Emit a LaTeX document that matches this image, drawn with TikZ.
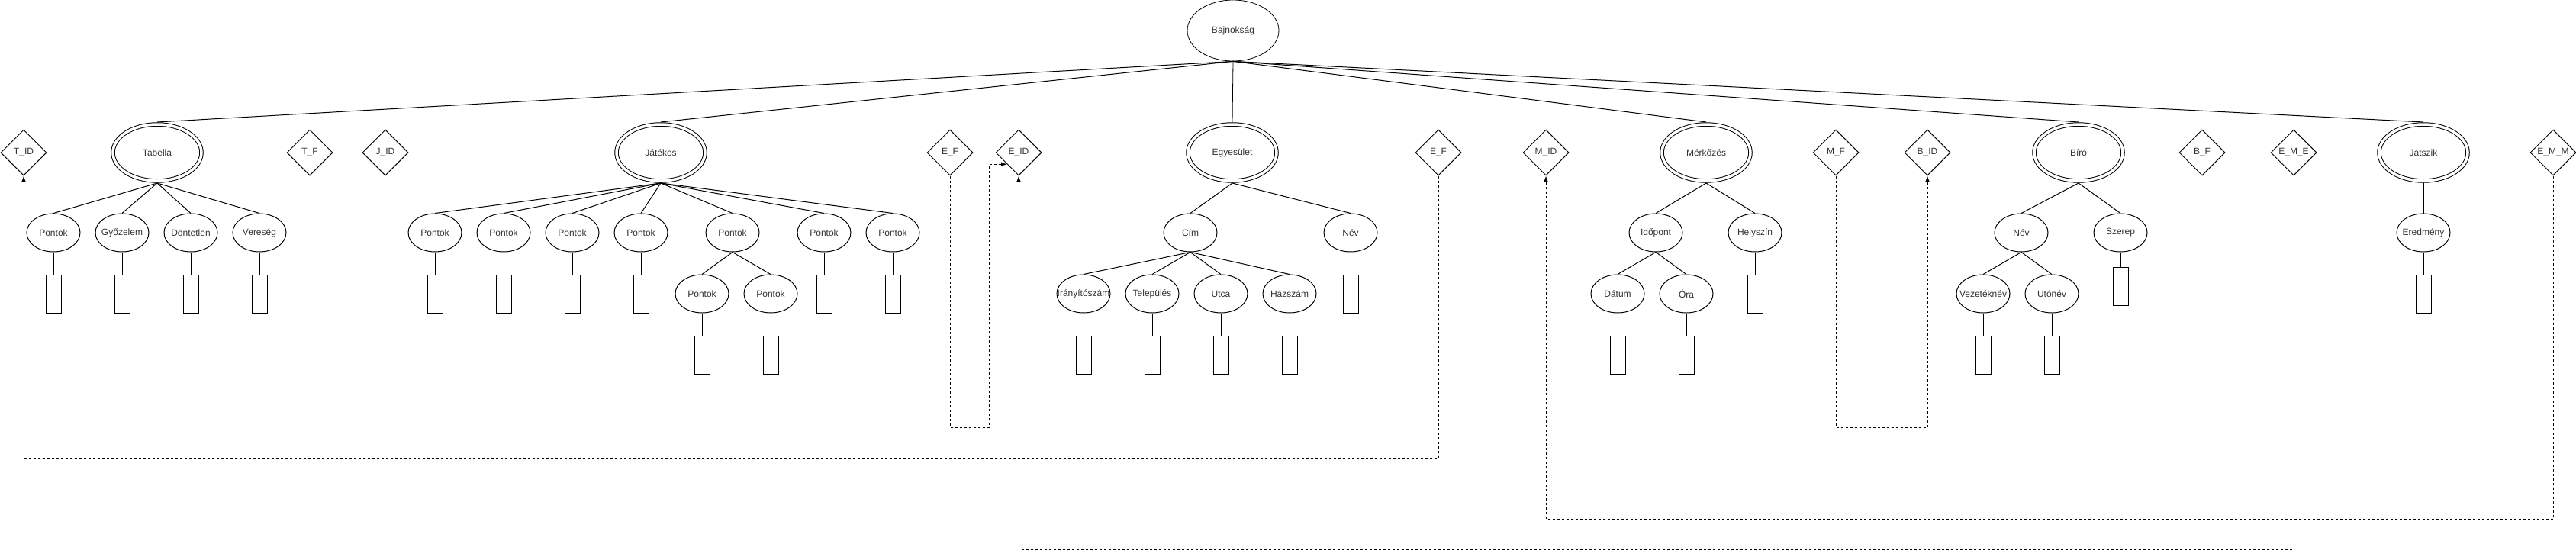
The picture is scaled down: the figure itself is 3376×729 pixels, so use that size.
\documentclass[tikz,border=0pt]{standalone}
\usepackage{fontspec}
\setmainfont{Liberation Sans}
\usetikzlibrary{shapes.geometric,arrows.meta}
\newcommand\A[1]{\makebox[0pt]{#1}}
\newcommand\U[1]{\setbox0\hbox{#1}\rlap{\rule[-2.2pt]{\wd0}{0.8pt}}\box0}
\begin{document}
\begin{tikzpicture}[x=1pt,y=-1pt,
  every node/.style={font=\fontsize{12}{14}\selectfont, text=black!80},
  topent/.style={draw, ellipse, line width=0.8pt, minimum width=120pt, minimum height=80pt, inner sep=0pt},
  ent/.style={draw, ellipse, line width=1pt, double, double distance=3.5pt, minimum width=116pt, minimum height=74pt, inner sep=0pt, outer sep=3pt},
  attr/.style={draw, ellipse, line width=1pt, minimum width=70pt, minimum height=50pt, inner sep=0pt},
  rel/.style={draw, diamond, line width=1pt, shape aspect=1, minimum width=60pt, minimum height=60pt, inner sep=0pt},
  valbox/.style={draw, rectangle, line width=1pt, minimum width=20pt, minimum height=50pt, inner sep=0pt},
  conn/.style={line width=1pt},
  fk/.style={line width=1pt, dash pattern=on 3pt off 3pt, -{Latex[length=8pt,width=6pt]}}
]
\useasboundingbox (0,0) rectangle (3376,729);

% top
\node[topent] (baj) at (1616,40) {Bajnokság};

% entities
\node[ent] (tab) at (206,200) {Tabella};
\node[ent] (jat) at (866,200) {Játékos};
\node[ent] (egy) at (1615,200) {Egyesület};
\node[ent] (mer) at (2236,200) {Mérkőzés};
\node[ent] (bir) at (2724,200) {Bíró};
\node[ent] (jsz) at (3176,200) {Játszik};

% diamonds
\node[rel] (tid) at (31,200) {\U{T\_ID}};
\node[rel] (tf) at (406,200) {T\_F};
\node[rel] (jid) at (505,200) {\U{J\_ID}};
\node[rel] (ef1) at (1245,200) {E\_F};
\node[rel] (eid) at (1335,200) {\U{E\_ID}};
\node[rel] (ef2) at (1885,200) {E\_F};
\node[rel] (mid) at (2026,200) {\U{M\_ID}};
\node[rel] (mf) at (2406,200) {M\_F};
\node[rel] (bid) at (2526,200) {\U{B\_ID}};
\node[rel] (bf) at (2886,200) {B\_F};
\node[rel] (eme) at (3006,200) {E\_M\_E};
\node[rel] (emm) at (3346,200) {E\_M\_M};

% Tabella attributes
\node[attr] (t1) at (70,305) {\A{Pontok}};
\node[attr] (t2) at (160,305) {\A{Győzelem}};
\node[attr] (t3) at (250,305) {\A{Döntetlen}};
\node[attr] (t4) at (340,305) {\A{Vereség}};
\foreach \n/\x in {t1/70,t2/160,t3/250,t4/340}{
  \node[valbox] (\n b) at (\x,385) {};
}

% Játékos attributes
\foreach \n/\x in {j1/570,j2/660,j3/750,j4/840,j5/960,j6/1080,j7/1170}{
  \node[attr] (\n) at (\x,305) {\A{Pontok}};
}
\foreach \n/\x in {j1/570,j2/660,j3/750,j4/840,j6/1080,j7/1170}{
  \node[valbox] (\n b) at (\x,385) {};
}
\node[attr] (j5a) at (920,385) {\A{Pontok}};
\node[attr] (j5c) at (1010,385) {\A{Pontok}};
\node[valbox] (j5ab) at (920,465) {};
\node[valbox] (j5cb) at (1010,465) {};

% Egyesület attributes
\node[attr] (cim) at (1560,305) {\A{Cím}};
\node[attr] (nev) at (1770,305) {\A{Név}};
\node[valbox] (nevb) at (1770,385) {};
\node[attr] (e1) at (1420,385) {\A{Irányítószám}};
\node[attr] (e2) at (1510,385) {\A{Település}};
\node[attr] (e3) at (1600,385) {\A{Utca}};
\node[attr] (e4) at (1690,385) {\A{Házszám}};
\foreach \n/\x in {e1/1420,e2/1510,e3/1600,e4/1690}{
  \node[valbox] (\n b) at (\x,465) {};
}

% Mérkőzés attributes
\node[attr] (ido) at (2170,305) {\A{Időpont}};
\node[attr] (hely) at (2300,305) {\A{Helyszín}};
\node[valbox] (helyb) at (2300,385) {};
\node[attr] (dat) at (2120,385) {\A{Dátum}};
\node[attr] (ora) at (2210,385) {\A{Óra}};
\node[valbox] (datb) at (2120,465) {};
\node[valbox] (orab) at (2210,465) {};

% Bíró attributes
\node[attr] (bnev) at (2649,305) {\A{Név}};
\node[attr] (sz) at (2779,305) {\A{Szerep}};
\node[valbox] (szb) at (2779,375) {};
\node[attr] (vez) at (2599,385) {\A{Vezetéknév}};
\node[attr] (uto) at (2689,385) {\A{Utónév}};
\node[valbox] (vezb) at (2599,465) {};
\node[valbox] (utob) at (2689,465) {};

% Játszik attribute
\node[attr] (ered) at (3176,305) {\A{Eredmény}};
\node[valbox] (eredb) at (3176,385) {};

% connectors from Bajnokság
\foreach \e in {tab,jat,mer,bir,jsz}{
  \draw[conn] (baj.south) -- (\e.north);
}
\draw[line width=0.8pt] (baj.south) -- (egy.north);

% horizontal connectors
\foreach \a/\b in {tid/tab,tab/tf,jid/jat,jat/ef1,eid/egy,egy/ef2,mid/mer,mer/mf,bid/bir,bir/bf,eme/jsz,jsz/emm}{
  \draw[conn] (\a.east) -- (\b.west);
}

% parent-child connectors
\foreach \p/\c in {tab/t1,tab/t2,tab/t3,tab/t4,
  jat/j1,jat/j2,jat/j3,jat/j4,jat/j5,jat/j6,jat/j7,j5/j5a,j5/j5c,
  egy/cim,egy/nev,cim/e1,cim/e2,cim/e3,cim/e4,
  mer/ido,mer/hely,ido/dat,ido/ora,
  bir/bnev,bir/sz,bnev/vez,bnev/uto,
  jsz/ered}{
  \draw[conn] (\p.south) -- (\c.north);
}

% attribute-to-value connectors
\foreach \c in {t1,t2,t3,t4,j1,j2,j3,j4,j6,j7,j5a,j5c,nev,e1,e2,e3,e4,hely,dat,ora,sz,vez,uto,ered}{
  \draw[conn] (\c.south) -- (\c b.north);
}

% dashed foreign-key connectors
\coordinate (ya) at (0,560);
\coordinate (yb) at (0,600);
\coordinate (yc) at (0,680);
\coordinate (yd) at (0,720);
\coordinate (k1) at (1296,560);

\draw[fk] (ef2.south) -- (ef2.south |- yb) -- (tid.south |- yb) -- (tid.south);
\draw[fk] (ef1.south) -- (ef1.south |- ya) -- (k1) -- (k1 |- eid.south west) -- (eid.south west);
\draw[fk] (eme.south) -- (eme.south |- yd) -- (eid.south |- yd) -- (eid.south);
\draw[fk] (emm.south) -- (emm.south |- yc) -- (mid.south |- yc) -- (mid.south);
\draw[fk] (mf.south) -- (mf.south |- ya) -- (bid.south |- ya) -- (bid.south);
\end{tikzpicture}
\end{document}
